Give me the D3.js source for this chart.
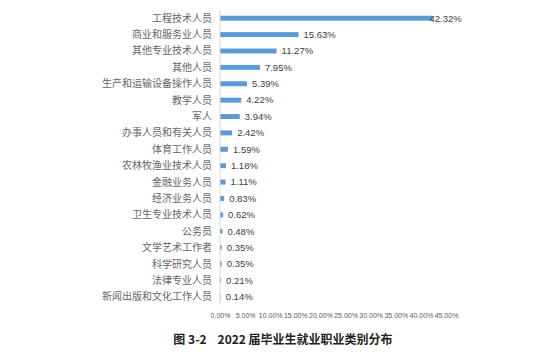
<!DOCTYPE html>
<html><head><meta charset="utf-8">
<script src="https://cdn.jsdelivr.net/npm/d3@7"></script>
<style>body{margin:0;background:#fff}</style>
</head><body><svg id="c" width="554" height="356"></svg>
<script>
const categories = ["工程技术人员","商业和服务业人员","其他专业技术人员","其他人员","生产和运输设备操作人员","教学人员","军人","办事人员和有关人员","体育工作人员","农林牧渔业技术人员","金融业务人员","经济业务人员","卫生专业技术人员","公务员","文学艺术工作者","科学研究人员","法律专业人员","新闻出版和文化工作人员"];
const values = [42.32,15.63,11.27,7.95,5.39,4.22,3.94,2.42,1.59,1.18,1.11,0.83,0.62,0.48,0.35,0.35,0.21,0.14];
const tickValues = [0,5,10,15,20,25,30,35,40,45];
const title = "图 3-2    2022 届毕业生就业职业类别分布";

const svg = d3.select("#c");
const x = d3.scaleLinear().domain([0,45]).range([220,446]);
const y = d3.scaleBand().domain(categories).range([10,305]).paddingInner(0.7).paddingOuter(0.35);
const font = "'Noto Sans CJK SC', 'Noto Sans', sans-serif";

svg.selectAll("rect.bar").data(values).enter().append("rect")
  .attr("class","bar")
  .attr("x", x(0))
  .attr("y", (d,i)=>y(categories[i]))
  .attr("width", d=>x(d)-x(0))
  .attr("height", y.bandwidth())
  .attr("fill","#5b9bd5");

svg.append("line").attr("x1",x(0)).attr("x2",x(0)).attr("y1",10).attr("y2",305)
  .attr("stroke","#d9d9d9").attr("stroke-width",1);

svg.selectAll("text.cat").data(categories).enter().append("text")
  .attr("class","cat")
  .attr("x", x(0)-8)
  .attr("y", d=>y(d)+y.bandwidth()/2)
  .attr("dy","0.35em")
  .attr("text-anchor","end")
  .attr("font-family", font)
  .attr("font-size", 10)
  .attr("fill","#666")
  .text(d=>d);

svg.selectAll("text.val").data(values).enter().append("text")
  .attr("class","val")
  .attr("x", d=>x(d)+ (d>40?-3:5))
  .attr("y", (d,i)=>y(categories[i])+y.bandwidth()/2)
  .attr("dy","0.35em")
  .attr("font-family", "'Liberation Sans', Arial, sans-serif")
  .attr("font-size", 9.5)
  .attr("fill","#404040")
  .text(d=>d.toFixed(2)+"%");

const axis = d3.axisBottom(x).tickValues(tickValues).tickSize(0).tickFormat(d=>d.toFixed(2)+"%");
const g = svg.append("g").attr("transform","translate(0,310)").call(axis);
g.select(".domain").remove();
g.selectAll("text").attr("font-family","'Liberation Sans', Arial, sans-serif").attr("font-size",7).attr("fill","#595959");

svg.append("text").attr("x",283).attr("y",344).attr("text-anchor","middle")
  .attr("font-family", font).attr("font-weight","bold").attr("font-size",12).attr("fill","#222")
  .attr("xml:space","preserve").style("white-space","pre")
  .text(title);
</script></body></html>
